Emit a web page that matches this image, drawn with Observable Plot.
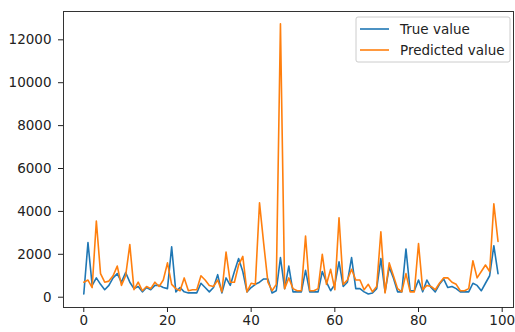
<!DOCTYPE html>
<html>
<head>
<meta charset="utf-8">
<script src="https://cdn.jsdelivr.net/npm/d3@7"></script>
<script src="https://cdn.jsdelivr.net/npm/@observablehq/plot@0.6"></script>
<style>
  html, body { margin: 0; padding: 0; background: #fff; }
  #chart svg { display: block; }
</style>
</head>
<body>
<div id="chart"></div>
<script>
const trueValues = [
  150, 2550, 550, 900, 600, 350, 550, 900, 1100, 700,
  1150, 700, 400, 500, 250, 450, 350, 550, 550, 450,
  400, 2350, 250, 450, 250, 200, 200, 200, 650, 450,
  250, 450, 1050, 200, 900, 550, 1200, 1800, 1200, 250,
  450, 600, 700, 850, 850, 200, 300, 1850, 400, 1450,
  250, 250, 250, 1250, 250, 250, 250, 1200, 700, 300,
  600, 1650, 500, 700, 1850, 400, 400, 250, 150, 200,
  400, 1800, 250, 1400, 900, 250, 250, 2250, 300, 300,
  800, 250, 800, 450, 250, 600, 850, 450, 500, 400,
  250, 250, 250, 650, 550, 300, 650, 1000, 2400, 1100
];
const predictedValues = [
  700, 800, 450, 3550, 1100, 700, 750, 1000, 1450, 550,
  1000, 2450, 350, 700, 300, 500, 400, 700, 500, 800,
  1600, 600, 400, 300, 900, 300, 350, 350, 1000, 800,
  550, 500, 800, 250, 2100, 700, 700, 1500, 1900, 250,
  650, 600, 4400, 2500, 700, 300, 600, 12750, 400, 900,
  400, 300, 300, 2850, 300, 300, 400, 2000, 600, 1300,
  350, 3700, 600, 800, 1300, 800, 800, 350, 600, 250,
  500, 3050, 200, 1600, 1000, 400, 250, 1100, 250, 250,
  2500, 350, 550, 500, 350, 650, 900, 900, 700, 600,
  300, 300, 400, 1700, 900, 1200, 1500, 1200, 4350, 2600
];
const seriesNames = ["True value", "Predicted value"];
const seriesColors = ["#1f77b4", "#ff7f0e"];
const xTicks = [0, 20, 40, 60, 80, 100];
const yTicks = [0, 2000, 4000, 6000, 8000, 10000, 12000];

const rows = [];
trueValues.forEach((v, i) => rows.push({i, v, s: seriesNames[0]}));
predictedValues.forEach((v, i) => rows.push({i, v, s: seriesNames[1]}));

const W = 515, H = 332;

const plot = Plot.plot({
  width: W,
  height: H,
  marginLeft: 63,
  marginRight: 2,
  marginTop: 11,
  marginBottom: 25,
  style: {fontFamily: "DejaVu Sans", fontSize: "13.5px", background: "#fff", color: "#222"},
  x: {domain: [-4.85, 102.7]},
  y: {domain: [-480, 13320]},
  color: {domain: seriesNames, range: seriesColors},
  marks: [
    Plot.line(rows, {x: "i", y: "v", z: "s", stroke: "s", strokeWidth: 1.6}),
    Plot.frame({stroke: "#333", strokeWidth: 1}),
    Plot.axisX({ticks: xTicks, tickSize: 5, tickPadding: 3, label: null, fontSize: 13.5}),
    Plot.axisY({ticks: yTicks, tickSize: 5, tickPadding: 7, label: null, fontSize: 13.5, tickFormat: d => String(d)})
  ]
});
document.getElementById("chart").appendChild(plot);

const svg = d3.select(plot);
// enforce tick label size
svg.selectAll("text").filter(function() { return !this.closest("g.legend"); })
  .attr("font-size", 13.5).style("font-size", "13.5px").style("font-family", "DejaVu Sans");
svg.selectAll("g").filter(function() { return (this.getAttribute("aria-label") || "").includes("tick label"); })
  .attr("font-size", 13.5).style("font-size", "13.5px");

// Legend (inside plot, top right)
const lg = svg.append("g").attr("class", "legend").attr("font-family", "DejaVu Sans").attr("font-size", 13.5).attr("text-anchor", "start");
lg.append("rect").attr("x", 356).attr("y", 17).attr("width", 154).attr("height", 45)
  .attr("rx", 2).attr("fill", "#fff").attr("fill-opacity", 0.85).attr("stroke", "#ccc");
seriesNames.forEach((name, k) => {
  const y = 29 + k * 21;
  lg.append("line").attr("x1", 360).attr("x2", 389).attr("y1", y).attr("y2", y)
    .attr("stroke", seriesColors[k]).attr("stroke-width", 1.6);
  lg.append("text").attr("x", 400).attr("y", y).attr("dy", "0.35em").attr("fill", "#222").attr("text-anchor", "start").text(name);
});
</script>
</body>
</html>
